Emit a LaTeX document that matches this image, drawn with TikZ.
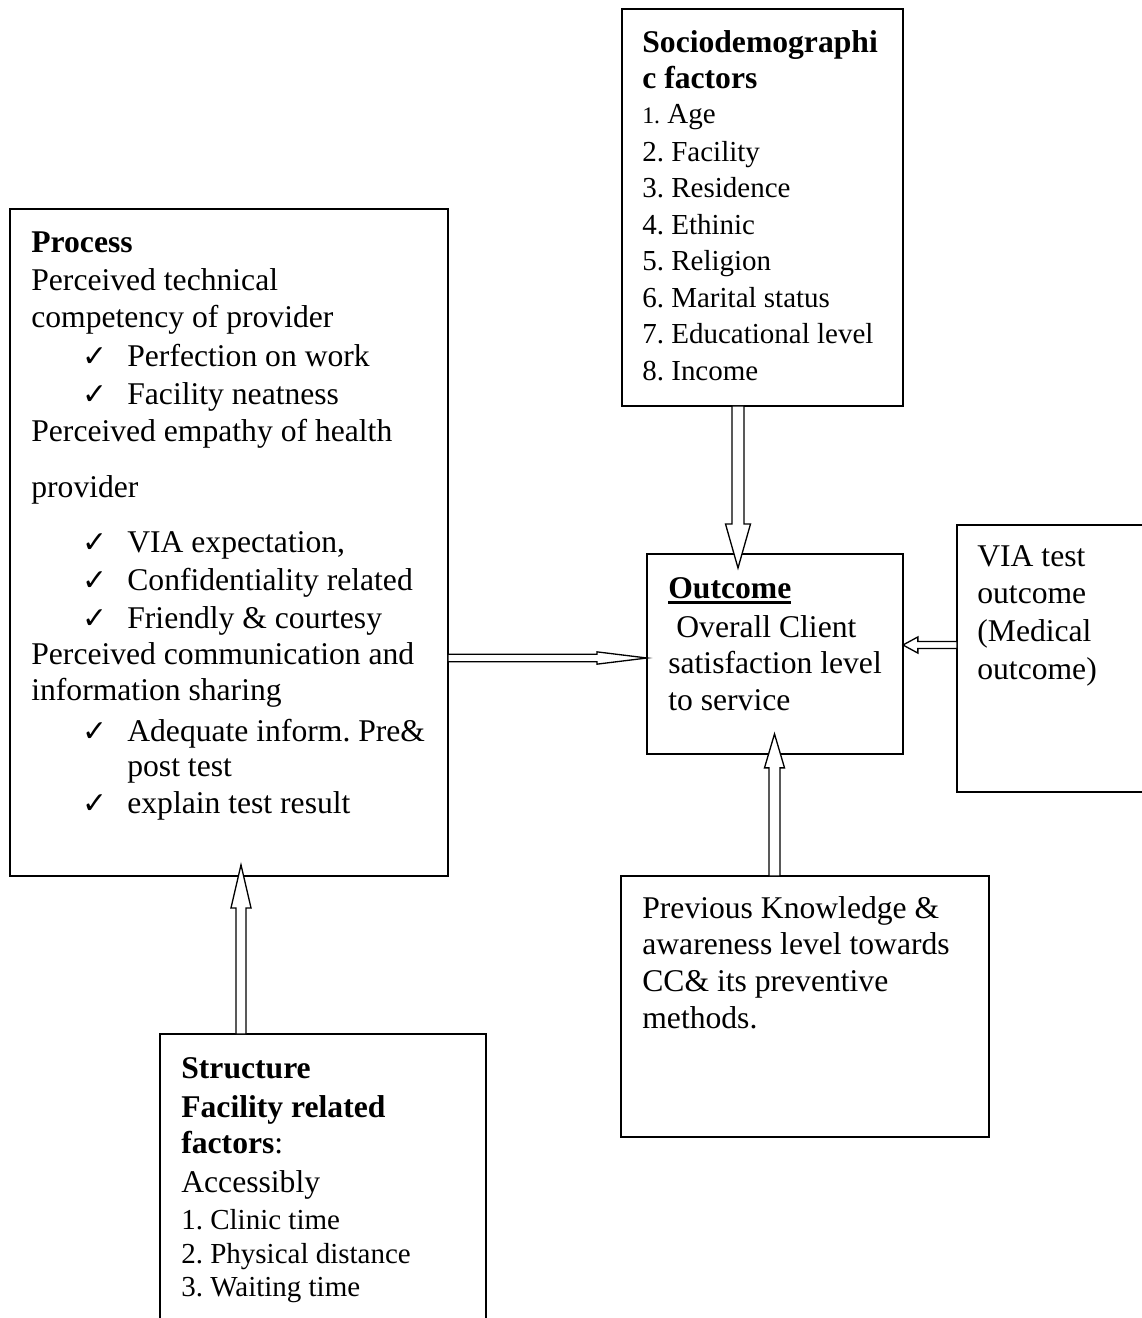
\documentclass[tikz,border=0pt]{standalone}
\usepackage{fontspec}
\setmainfont{Liberation Serif}
\newfontfamily\chkfont{DejaVu Sans}
\usetikzlibrary{calc}
\frenchspacing
\newcommand\chk{{\chkfont\fontsize{17}{19}\selectfont ✓}}
\newcommand\myul[1]{\setbox0\hbox{#1}\rlap{\rule[-3.2pt]{\wd0}{1.7pt}}\box0}
\tikzset{
  box/.style={draw, line width=1.1pt, anchor=north west, inner sep=0pt, outer sep=0pt},
  ln/.style={anchor=base west, inner sep=0pt, font=\fontsize{18}{21}\selectfont},
  lnb/.style={anchor=base west, inner sep=0pt, font=\fontsize{18}{21}\selectfont\bfseries},
  lns/.style={anchor=base west, inner sep=0pt, font=\fontsize{16.5}{19}\selectfont},
  ba/.style args={#1/#2/#3}{draw, fill=white, line width=0.75pt, line join=miter,
    to path={let \p1=(\tikztostart), \p2=(\tikztotarget),
      \n1={veclen(\x2-\x1,\y2-\y1)} in
      ({\x1-#1*(\y2-\y1)/\n1},{\y1+#1*(\x2-\x1)/\n1})
      -- ({\x2-#3*(\x2-\x1)/\n1-#1*(\y2-\y1)/\n1},{\y2-#3*(\y2-\y1)/\n1+#1*(\x2-\x1)/\n1})
      -- ({\x2-#3*(\x2-\x1)/\n1-#2*(\y2-\y1)/\n1},{\y2-#3*(\y2-\y1)/\n1+#2*(\x2-\x1)/\n1})
      -- (\p2)
      -- ({\x2-#3*(\x2-\x1)/\n1+#2*(\y2-\y1)/\n1},{\y2-#3*(\y2-\y1)/\n1-#2*(\x2-\x1)/\n1})
      -- ({\x2-#3*(\x2-\x1)/\n1+#1*(\y2-\y1)/\n1},{\y2-#3*(\y2-\y1)/\n1-#1*(\x2-\x1)/\n1})
      -- ({\x1+#1*(\y2-\y1)/\n1},{\y1-#1*(\x2-\x1)/\n1})
      -- cycle}}
}
\begin{document}
\begin{tikzpicture}[x=0.02cm,y=-0.02cm]
\path[use as bounding box, clip] (0,0) rectangle (1142,1318);
\fill[white] (0,0) rectangle (1142,1318);

% boxes
\node[box, minimum width=5.62cm, minimum height=7.94cm] (socio) at (622,9) {};
\node[box, minimum width=8.76cm, minimum height=13.34cm] (process) at (10,209) {};
\node[box, minimum width=5.12cm, minimum height=4.0cm] (outcome) at (647,554) {};
\node[box, minimum width=4.06cm, minimum height=5.34cm] (via) at (957,525) {};
\node[box, minimum width=7.36cm, minimum height=5.22cm] (prev) at (621,876) {};
\node[box, minimum width=6.52cm, minimum height=6.4cm] (struct) at (160,1034) {};

% socio text
\node[lnb] (s1) at (642,53) {Sociodemographi};
\node[lnb] (s2) at (642,89) {c factors};
\node[lns] (s3) at (642,124) {{\fontsize{13.5}{16}\selectfont 1.} Age};
\node[lns] (s4) at (642,161) {2. Facility};
\node[lns] (s5) at (642,197) {3. Residence};
\node[lns] (s6) at (642,234) {4. Ethinic};
\node[lns] (s7) at (642,270) {5. Religion};
\node[lns] (s8) at (642,307) {6. Marital status};
\node[lns] (s9) at (642,343) {7. Educational level};
\node[lns] (s10) at (642,380) {8. Income};

% process text
\node[lnb] (p1) at (31,252) {Process};
\node[ln] (p2) at (31,290) {Perceived technical};
\node[ln] (p3) at (31,327) {competency of provider};
\node[ln] (c1) at (82,366) {\chk};
\node[ln] (p4) at (127,366) {Perfection on work};
\node[ln] (c2) at (82,404) {\chk};
\node[ln] (p5) at (127,404) {Facility neatness};
\node[ln] (p6) at (31,441) {Perceived empathy of health};
\node[ln] (p7) at (31,497) {provider};
\node[ln] (c3) at (82,552) {\chk};
\node[ln] (p8) at (127,552) {VIA expectation,};
\node[ln] (c4) at (82,590) {\chk};
\node[ln] (p9) at (127,590) {Confidentiality related};
\node[ln] (c5) at (82,628) {\chk};
\node[ln] (p10) at (127,628) {Friendly \& courtesy};
\node[ln] (p11) at (31,664) {Perceived communication and};
\node[ln] (p12) at (31,700) {information sharing};
\node[ln] (c6) at (82,741) {\chk};
\node[ln] (p13) at (127,741) {Adequate inform. Pre\&};
\node[ln] (p14) at (127,776) {post test};
\node[ln] (c7) at (82,813) {\chk};
\node[ln] (p15) at (127,813) {explain test result};

% outcome text
\node[lnb] (o1) at (668,598) {\myul{Outcome}};
\node[ln] (o2) at (676,637) {Overall Client};
\node[ln] (o3) at (668,673) {satisfaction level};
\node[ln] (o4) at (668,710) {to service};

% VIA text
\node[ln] (v1) at (977,566) {VIA test};
\node[ln] (v2) at (977,603) {outcome};
\node[ln] (v3) at (977,641) {(Medical};
\node[ln] (v4) at (977,679) {outcome)};

% previous knowledge text
\node[ln] (k1) at (642,918) {Previous Knowledge \&};
\node[ln] (k2) at (642,954) {awareness level towards};
\node[ln] (k3) at (642,991) {CC\& its preventive};
\node[ln] (k4) at (642,1028) {methods.};

% structure text
\node[lnb] (t1) at (181,1078) {Structure};
\node[lnb] (t2) at (181,1117) {Facility related};
\node[ln] (t3) at (181,1153) {\textbf{factors}:};
\node[ln] (t4) at (181,1192) {Accessibly};
\node[lns] (t5) at (181,1229) {1. Clinic time};
\node[lns] (t6) at (181,1263) {2. Physical distance};
\node[lns] (t7) at (181,1296) {3. Waiting time};

% arrow guide coordinates
\coordinate (ax1) at (738,0);
\coordinate (ay2) at (0,658);
\coordinate (ay3) at (0,645);
\coordinate (ax4) at (774.5,0);
\coordinate (ax5) at (241,0);

% block arrows
\draw[ba=3.4/7.1/25] (socio.south -| ax1) to ($(outcome.north -| ax1)+(0,14)$);
\draw[ba=2.1/3.5/28.5] (process.east |- ay2) to (outcome.west |- ay2);
\draw[ba=2.0/4.6/8.5] (via.west |- ay3) to (outcome.east |- ay3);
\draw[ba=3.1/5.7/19.3] (prev.north -| ax4) to ($(outcome.south -| ax4)+(0,-20)$);
\draw[ba=2.85/5.7/24.5] (struct.north -| ax5) to ($(process.south -| ax5)+(0,-11)$);
\end{tikzpicture}
\end{document}
